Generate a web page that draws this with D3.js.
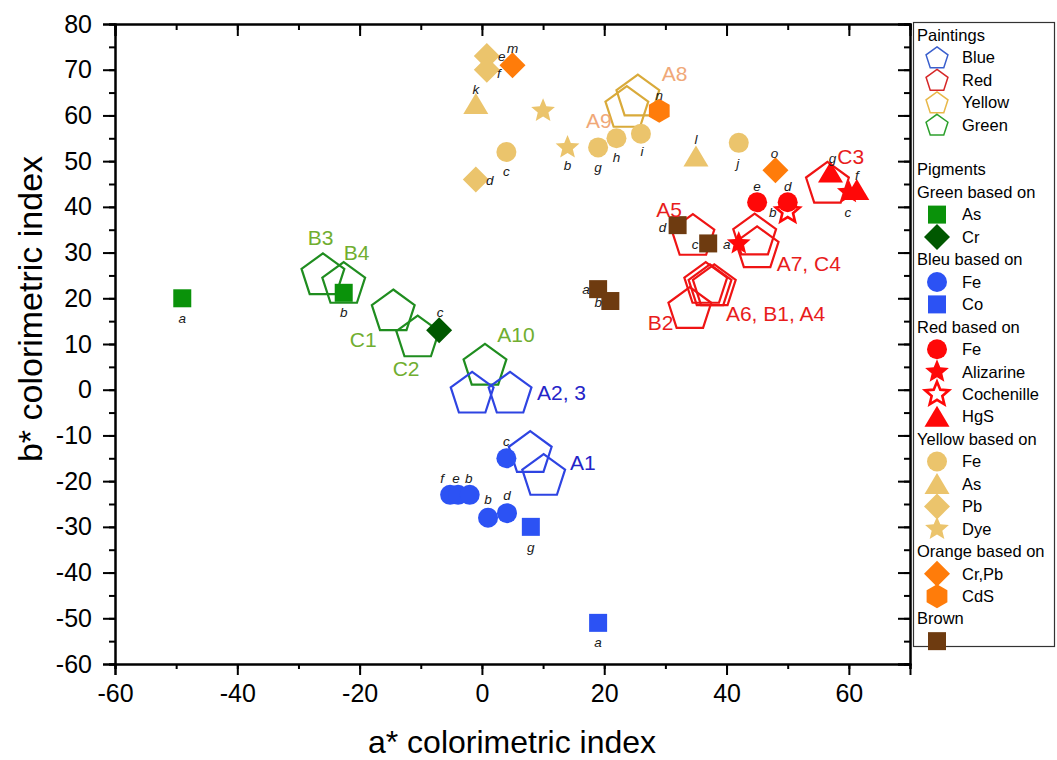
<!DOCTYPE html>
<html><head><meta charset="utf-8">
<script src="https://cdn.jsdelivr.net/npm/d3@7"></script>
<style>body{margin:0;background:#fff}svg{display:block}</style>
</head><body>
<script>
// ---------- DATA ----------
const xTicks = [-60,-40,-20,0,20,40,60];
const yTicks = [-60,-50,-40,-30,-20,-10,0,10,20,30,40,50,60,70,80];

// paintings (a*, b*)
const bluePaintings   = [[-1.6,-1],[4.6,-1],[7.9,-14],[10.1,-19]];
const redPaintings    = [[34.5,33.5],[44.6,33.6],[45,30.8],[36.6,23],[37.3,22.5],[38,22.5],[34,17.5],[56.5,44.9]];
const yellowPaintings = [[25.5,64],[23.7,61.5]];
const greenPaintings  = [[-26,24.9],[-22.6,23],[-14.5,17],[-10.5,11.3],[0.5,5.1]];

// painting annotations [text, a*, b*] (text start)
const blueNotes   = [["A2, 3",9.0,-0.7],["A1",14.4,-16.0]];
const redNotes    = [["A5",28.5,39.4],["A7, C4",48.2,27.5],["A6, B1, A4",39.9,16.6],["B2",27.1,14.6],["C3",58.1,50.9]];
const yellowNotes = [["A8",29.4,69.2],["A9",17.0,58.9]];
const greenNotes  = [["B3",-28.5,33.2],["B4",-22.6,29.9],["C1",-21.6,10.9],["C2",-14.6,4.7],["A10",2.5,12.0]];

// pigments [label, a*, b*]
const greenAs       = [["a",-49,20],["b",-22.6,21.2]];
const greenCr       = [["c",-7,13]];
const blueFe        = [["c",4,-15],["f",-5.2,-23],["e",-3.9,-23],["b",-2,-23],["b",1,-28],["d",4.1,-27]];
const blueCo        = [["g",8,-30],["a",19,-51]];
const redFe         = [["e",45,41],["d",50,41]];
const redAlizarine  = [["a",42,32],["c",60,43.2]];
const redCochenille = [["b",50,39]];
const redHgS        = [["g",57,47.5],["f",61.3,43.7]];
const yellowFe      = [["c",4,52],["g",19,53],["h",22,55],["i",26,56],["j",42,54]];
const yellowAs      = [["k",-1,62.5],["l",35,51]];
const yellowPb      = [["e",0.8,73],["f",0.8,70],["d",-1,46]];
const yellowDye     = [["",10,61],["b",14,53]];
const orangeCrPb    = [["m",5,71],["o",48,48]];
const orangeCdS     = [["n",29,61]];
const brownPig      = [["d",32,36],["c",37,32],["a",19,22],["b",21,19.4]];

// ---------- LABEL PLACEMENT (px offsets) ----------
const labelPlacement = {
  greenAs:[[0,20],[0,19]], greenCr:[[1,-18]],
  blueFe:[[0,-17],[-8,-17],[-2,-17],[-1,-17],[0,-18],[0,-18]], blueCo:[[0,20],[0,19]],
  redFe:[[0,-16],[0,-16]], redAlizarine:[[-12,1],[-1,20]], redCochenille:[[-15,1]], redHgS:[[2,-14],[0,-15]],
  yellowFe:[[0,19],[0,20],[0,19],[1,18],[-1,20]], yellowAs:[[0,-15],[0,-17]], yellowPb:[[15,0],[12,4],[14,1]],
  yellowDye:[[0,0],[0,18]], orangeCrPb:[[0,-17],[-1,-17]], orangeCdS:[[0,-16]],
  brownPig:[[-15,2],[-13,1],[-12,0],[-12,1]]
};

// ---------- SHAPES ----------
function poly(n, R, rot){ const p=[]; for(let k=0;k<n;k++){const a=(rot+360*k/n)*Math.PI/180; p.push([R*Math.cos(a),R*Math.sin(a)]);} return "M"+p.map(d=>d[0].toFixed(2)+","+d[1].toFixed(2)).join("L")+"Z"; }
function star(R, r){ const p=[]; for(let k=0;k<10;k++){const rr=k%2?r:R; const a=(-90+36*k)*Math.PI/180; p.push([rr*Math.cos(a),rr*Math.sin(a)]);} return "M"+p.map(d=>d[0].toFixed(2)+","+d[1].toFixed(2)).join("L")+"Z"; }
const shapes = {
  pentagon: poly(5,22.5,-90),
  legendPentagon: poly(5,11.5,-90),
  circle: "M10,0A10,10 0 1,1 -10,0A10,10 0 1,1 10,0Z",
  square: "M-9,-9H9V9H-9Z",
  diamond: "M0,-13L13,0L0,13L-13,0Z",
  triangle: "M0,-11L12.5,10L-12.5,10Z",
  star: star(12.5,5.6),
  hexagon: poly(6,12,-90)
};

const COL = {
  blueM:"#2c52f4", redM:"#ff0808", yellowM:"#ebc46c", greenAs:"#0a920a", greenCr:"#005800",
  orange:"#ff7c0a", brown:"#6e3b10",
  pBlue:"#2e44e2", pRed:"#ef1414", pYellow:"#d9aa3a", pGreen:"#1f8d1f",
  tBlue:"#2424c8", tRed:"#e81c1c", tYellow:"#f0a878", tGreen:"#70ae30",
  lgBlue:"#3a5fcd", lgRed:"#d62728", lgYellow:"#e8b84a", lgGreen:"#2ca02c"
};

// ---------- SVG ----------
const W=1057, H=760;
const svg = d3.select("body").append("svg").attr("width",W).attr("height",H)
  .style("font-family","'Liberation Sans', Arial, sans-serif");
const x = d3.scaleLinear().domain([-60,70]).range([115,910]);
const y = d3.scaleLinear().domain([-60,80]).range([664,24]);
const fmt = d => String(d);

// axes
const xMinor = d3.range(-60,71,10), yMinor = d3.range(-60,81,5);
function styleAxis(g){ g.selectAll("path.domain").attr("stroke","#000").attr("stroke-width",2);
  g.selectAll(".tick line").attr("stroke","#000").attr("stroke-width",2); }
const axBottom = svg.append("g").attr("transform",`translate(0,${y(-60)})`);
axBottom.append("g").call(d3.axisBottom(x).tickValues(xMinor).tickSize(5).tickFormat("")).call(styleAxis);
const bx = axBottom.append("g").call(d3.axisBottom(x).tickValues(xTicks).tickSize(11).tickPadding(9).tickFormat(fmt)).call(styleAxis);
bx.selectAll("text").attr("font-size",25).attr("font-family","'Liberation Sans', Arial, sans-serif").attr("fill","#000");

const axTop = svg.append("g").attr("transform",`translate(0,${y(80)})`);
axTop.append("g").call(d3.axisTop(x).tickValues(xMinor).tickSize(-6).tickFormat("")).call(styleAxis);
axTop.append("g").call(d3.axisTop(x).tickValues(xTicks).tickSize(-12).tickFormat("")).call(styleAxis);

const axLeft = svg.append("g").attr("transform",`translate(${x(-60)},0)`);
axLeft.append("g").call(d3.axisLeft(y).tickValues(yMinor).tickSize(6).tickFormat("")).call(styleAxis);
const ly = axLeft.append("g").call(d3.axisLeft(y).tickValues(yTicks).tickSize(12).tickPadding(11).tickFormat(fmt)).call(styleAxis);
ly.selectAll("text").attr("font-size",25).attr("font-family","'Liberation Sans', Arial, sans-serif").attr("fill","#000");

const axRight = svg.append("g").attr("transform",`translate(${x(70)},0)`);
axRight.append("g").call(d3.axisRight(y).tickValues(yMinor).tickSize(-6).tickFormat("")).call(styleAxis);
axRight.append("g").call(d3.axisRight(y).tickValues(yTicks).tickSize(-12).tickFormat("")).call(styleAxis);

// titles
svg.append("text").attr("x",512).attr("y",753).attr("text-anchor","middle").attr("font-size",32).text("a* colorimetric index");
svg.append("text").attr("transform","translate(42,309) rotate(-90)").attr("text-anchor","middle").attr("font-size",34).text("b* colorimetric index");

// paintings
const plot = svg.append("g");
function drawPaintings(data, color){
  plot.append("g").selectAll("path").data(data).join("path")
    .attr("d",shapes.pentagon).attr("transform",d=>`translate(${x(d[0])},${y(d[1])})`)
    .attr("fill","none").attr("stroke",color).attr("stroke-width",2.2).attr("stroke-linejoin","miter");
}
drawPaintings(greenPaintings, COL.pGreen);
drawPaintings(bluePaintings, COL.pBlue);
drawPaintings(yellowPaintings, COL.pYellow);
drawPaintings(redPaintings, COL.pRed);

// pigments
const pigmentSeries = [
  ["brownPig", brownPig, "square", COL.brown],
  ["yellowFe", yellowFe, "circle", COL.yellowM],
  ["yellowAs", yellowAs, "triangle", COL.yellowM],
  ["yellowPb", yellowPb, "diamond", COL.yellowM],
  ["yellowDye", yellowDye, "star", COL.yellowM],
  ["orangeCrPb", orangeCrPb, "diamond", COL.orange],
  ["orangeCdS", orangeCdS, "hexagon", COL.orange],
  ["greenAs", greenAs, "square", COL.greenAs],
  ["greenCr", greenCr, "diamond", COL.greenCr],
  ["blueFe", blueFe, "circle", COL.blueM],
  ["blueCo", blueCo, "square", COL.blueM],
  ["redCochenille", redCochenille, "hollowStar", COL.redM],
  ["redAlizarine", redAlizarine, "star", COL.redM],
  ["redFe", redFe, "circle", COL.redM],
  ["redHgS", redHgS, "triangle", COL.redM]
];
function marker(g, shape, color){
  if(shape==="hollowStar"){
    g.append("path").attr("d",shapes.star).attr("fill","#fff").attr("stroke",color).attr("stroke-width",2.6).attr("stroke-linejoin","miter");
  } else {
    g.append("path").attr("d",shapes[shape]).attr("fill",color);
  }
}
pigmentSeries.forEach(([name,data,shape,color])=>{
  const g = plot.append("g");
  data.forEach(d=>{ const m=g.append("g").attr("transform",`translate(${x(d[1])},${y(d[2])})`); marker(m,shape,color); });
});
// point labels
pigmentSeries.forEach(([name,data])=>{
  const off = labelPlacement[name];
  plot.append("g").selectAll("text").data(data.filter(d=>d[0])).join("text")
    .attr("x",(d)=>x(d[1])+off[data.indexOf(d)][0]).attr("y",(d)=>y(d[2])+off[data.indexOf(d)][1])
    .attr("dy","0.35em").attr("text-anchor","middle").attr("font-size",13.5).attr("font-style","italic")
    .attr("fill","#1a1a1a").text(d=>d[0]);
});
// painting annotations
[[greenNotes,COL.tGreen],[blueNotes,COL.tBlue],[yellowNotes,COL.tYellow],[redNotes,COL.tRed]].forEach(([notes,color])=>{
  plot.append("g").selectAll("text").data(notes).join("text")
    .attr("x",d=>x(d[1])).attr("y",d=>y(d[2])).attr("dy","0.35em")
    .attr("font-size",21).attr("fill",color).text(d=>d[0]);
});

// ---------- LEGEND ----------
const legendRows = [
  ["h","Paintings"],["p","Blue",COL.lgBlue],["p","Red",COL.lgRed],["p","Yellow",COL.lgYellow],["p","Green",COL.lgGreen],
  ["gap"],
  ["h","Pigments"],["h","Green based on"],["m","As","square",COL.greenAs],["m","Cr","diamond",COL.greenCr],
  ["h","Bleu based on"],["m","Fe","circle",COL.blueM],["m","Co","square",COL.blueM],
  ["h","Red based on"],["m","Fe","circle",COL.redM],["m","Alizarine","star",COL.redM],["m","Cochenille","hollowStar",COL.redM],["m","HgS","triangle",COL.redM],
  ["h","Yellow based on"],["m","Fe","circle",COL.yellowM],["m","As","triangle",COL.yellowM],["m","Pb","diamond",COL.yellowM],["m","Dye","star",COL.yellowM],
  ["h","Orange based on"],["m","Cr,Pb","diamond",COL.orange],["m","CdS","hexagon",COL.orange],
  ["h","Brown"],["m","","square",COL.brown]
];
const lg = svg.append("g");
lg.append("rect").attr("x",913.5).attr("y",22.5).attr("width",141).attr("height",624)
  .attr("fill","#fff").attr("stroke","#333").attr("stroke-width",1.2);
const rowY0 = 35, rowStep = 22.45, lgFont = 16.5;
legendRows.forEach((r,i)=>{
  const yy = rowY0 + i*rowStep;
  if(r[0]==="h"){
    lg.append("text").attr("x",917).attr("y",yy).attr("dy","0.35em").attr("font-size",lgFont).attr("fill","#000").text(r[1]);
  } else if(r[0]==="p"){
    lg.append("path").attr("d",shapes.legendPentagon).attr("transform",`translate(937,${yy+1})`)
      .attr("fill","none").attr("stroke",r[2]).attr("stroke-width",1.5);
    lg.append("text").attr("x",962).attr("y",yy).attr("dy","0.35em").attr("font-size",lgFont).attr("fill","#000").text(r[1]);
  } else if(r[0]==="m"){
    const m = lg.append("g").attr("transform",`translate(937,${yy})`);
    marker(m, r[2], r[3]);
    if(r[1]) lg.append("text").attr("x",962).attr("y",yy).attr("dy","0.35em").attr("font-size",lgFont).attr("fill","#000").text(r[1]);
  }
});
</script>
</body></html>
